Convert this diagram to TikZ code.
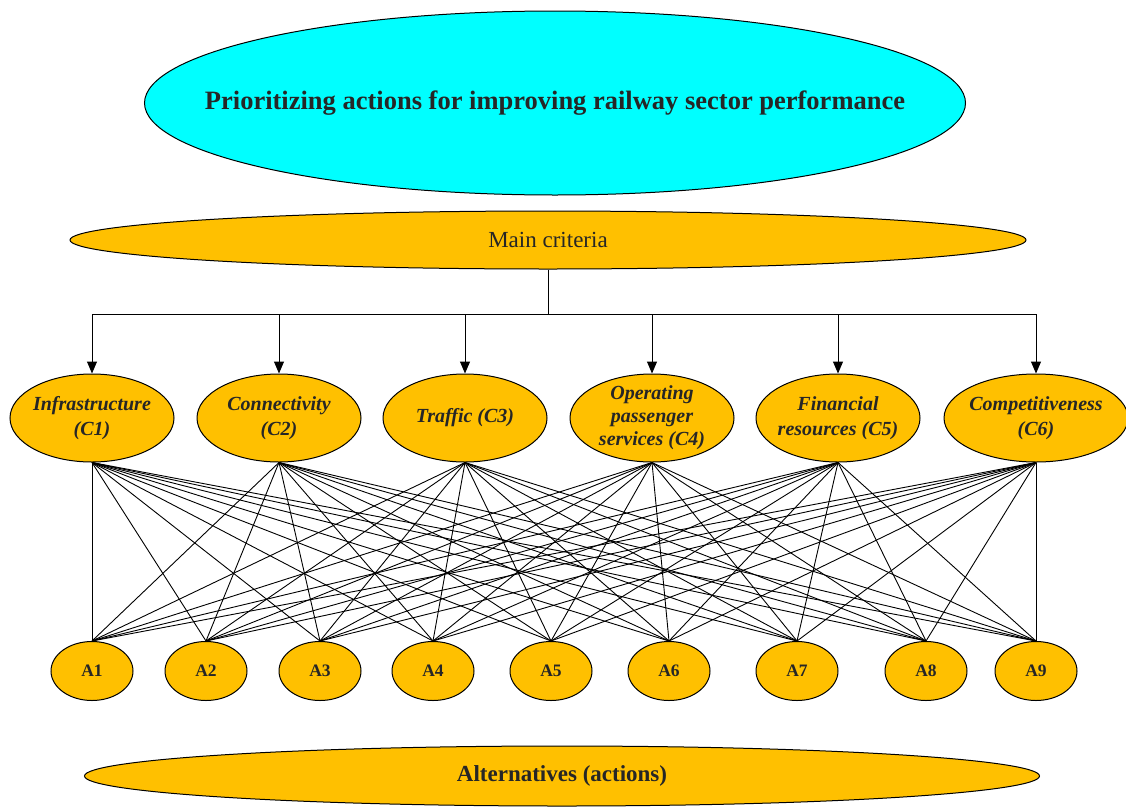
\documentclass[tikz,border=0pt]{standalone}
\usepackage{fontspec}
\setmainfont{Liberation Serif}
\usetikzlibrary{shapes.geometric,arrows.meta}
\definecolor{orng}{HTML}{FFC000}
\definecolor{cyn}{HTML}{00FFFF}
\definecolor{txt}{HTML}{262626}
\tikzset{
  ell/.style={ellipse, draw=black, line width=1pt, inner sep=0pt},
  lbl/.style={text=txt, align=center, inner sep=0pt},
  crit/.style={ell, fill=orng, minimum width=164pt, minimum height=88pt},
  crittext/.style={lbl, font=\fontsize{20}{25}\selectfont\bfseries\itshape},
  alt/.style={ell, fill=orng, minimum width=82pt, minimum height=59pt},
  alttext/.style={lbl, font=\fontsize{17.5}{20}\selectfont\bfseries},
  link/.style={line width=0.9pt, black},
  arr/.style={line width=1pt, black, -{Triangle[width=10pt,length=12pt]}}
}
\begin{document}
\begin{tikzpicture}[x=1pt,y=-1pt]
\useasboundingbox (0,0) rectangle (1126,806);
\node[ell, fill=cyn, minimum width=821pt, minimum height=184pt,
  label={[lbl, font=\fontsize{26.5}{30}\selectfont\bfseries]center:Prioritizing actions for improving railway sector performance}] (goal) at (555,103) {};
\node[ell, fill=orng, minimum width=956pt, minimum height=58pt,
  label={[lbl, font=\fontsize{23}{26}\selectfont]center:Main criteria}] (main) at (548,240) {};
\node[ell, fill=orng, minimum width=955pt, minimum height=60pt,
  label={[lbl, font=\fontsize{23}{26}\selectfont\bfseries]center:Alternatives (actions)}] (alts) at (562,776) {};

\node[crit, label={[crittext]center:{Infrastructure\\(C1)}}] (c1) at (92,418) {};
\node[crit, label={[crittext]center:{Connectivity\\(C2)}}] (c2) at (279,418) {};
\node[crit, label={[crittext]center:{Traffic (C3)}}] (c3) at (465,418) {};
\node[crit, label={[crittext, font=\fontsize{20}{23}\selectfont\bfseries\itshape]center:{Operating\\passenger\\services (C4)}}] (c4) at (652,418) {};
\node[crit, label={[crittext]center:{Financial\\resources (C5)}}] (c5) at (838,418) {};
\node[crit, minimum width=184pt, label={[crittext]center:{Competitiveness\\(C6)}}] (c6) at (1036,418) {};

\foreach \n/\x in {1/92,2/206,3/320,4/433,5/551,6/669,7/797,8/926,9/1036}{
  \node[alt, label={[alttext]center:A\n}] (a\n) at (\x,671) {};
}

\coordinate (j) at (548,314);
\coordinate (jl) at (92,314);
\coordinate (jr) at (1036,314);
\draw[line width=1pt] (main.south) -- (j);
\draw[line width=1pt] (jl) -- (jr);
\foreach \c in {c1,c2,c3,c4,c5,c6}{
  \draw[arr] (\c.north |- j) -- (\c.north);
}
\foreach \c in {c1,c2,c3,c4,c5,c6}{
  \foreach \a in {a1,a2,a3,a4,a5,a6,a7,a8,a9}{
    \draw[link] (\c.south) -- (\a.north);
  }
}
\end{tikzpicture}
\end{document}
